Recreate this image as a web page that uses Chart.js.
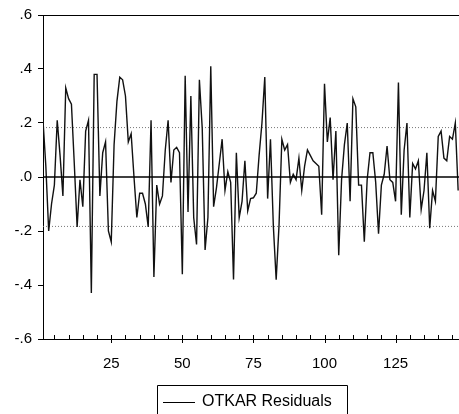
<!DOCTYPE html>
<html>
<head>
<meta charset="utf-8">
<script src="https://cdn.jsdelivr.net/npm/chart.js@4.4.1/dist/chart.umd.min.js"></script>
<style>
  body { margin: 0; background: #fff; }
  #wrap { width: 459px; height: 414px; }
</style>
</head>
<body>
<div id="wrap"><canvas id="Residuos" width="459" height="414"></canvas></div>
<script>
// residuos, observaciones 1..147
var residuals = [
   0.21,  0.04, -0.20, -0.10, -0.03,  0.21,  0.08, -0.07,  0.33,  0.29,
   0.27,  0.05, -0.185,-0.01, -0.11,  0.17,  0.21, -0.43,  0.38,  0.38,
  -0.07,  0.09,  0.13, -0.20, -0.24,  0.12,  0.28,  0.37,  0.36,  0.30,
   0.13,  0.16,  0.00, -0.15, -0.06, -0.06, -0.10, -0.185, 0.21, -0.37,
  -0.03, -0.10, -0.07,  0.10,  0.21, -0.02,  0.10,  0.11,  0.09, -0.36,
   0.375,-0.13,  0.30, -0.15, -0.25,  0.36,  0.18, -0.27, -0.15,  0.41,
  -0.11, -0.04,  0.05,  0.14, -0.05,  0.02, -0.02, -0.38,  0.09, -0.15,
  -0.09,  0.06, -0.125,-0.08, -0.077,-0.06,  0.08,  0.20,  0.37, -0.08,
   0.14, -0.18, -0.38, -0.18,  0.14,  0.10,  0.12, -0.02,  0.01, -0.01,
   0.07, -0.05,  0.04,  0.10,  0.08,  0.06,  0.05,  0.04, -0.14,  0.345,
   0.13,  0.22, -0.01,  0.17, -0.29, -0.01,  0.12,  0.20, -0.09,  0.29,
   0.26, -0.03, -0.03, -0.24, -0.01,  0.09,  0.09, -0.02, -0.21, -0.03,
   0.01,  0.115,-0.01, -0.02, -0.09,  0.35, -0.14,  0.10,  0.20, -0.15,
   0.05,  0.03,  0.06, -0.12, -0.05,  0.09, -0.19, -0.05, -0.09,  0.15,
   0.17,  0.07,  0.06,  0.15,  0.14,  0.20, -0.05
];
var seriesName = 'OTKAR Residuals';
var bandLevel = 0.183;          // lineas punteadas +/- 1 error estandar
var xMajorTicks = [25, 50, 75, 100, 125];
var yTickValues = [0.6, 0.4, 0.2, 0.0, -0.2, -0.4, -0.6];
var xFirst = 1, xLast = 147.3;

var puntos = [];
for (var i = 0; i < residuals.length; i++) {
    puntos.push({x: i + 1, y: residuals[i]});
}

function formatoY(v) {
    var s = v.toFixed(1);
    return s.replace('0.', '.');
}

// marcas del eje x hacia adentro, marco superior y leyenda con recuadro
var extras = {
    id: 'extras',
    afterDraw: function(chart) {
        var ctx = chart.ctx;
        var a = chart.chartArea;
        var xs = chart.scales.x;
        ctx.save();
        ctx.strokeStyle = '#000';
        ctx.lineWidth = 1;
        ctx.beginPath();
        ctx.moveTo(a.left, a.top + 0.5);
        ctx.lineTo(a.right, a.top + 0.5);
        for (var t = 5; t < xLast; t += 5) {
            var px = Math.round(xs.getPixelForValue(t)) + 0.5;
            var major = xMajorTicks.indexOf(t) >= 0;
            ctx.moveTo(px, a.bottom - 4);
            ctx.lineTo(px, a.bottom + (major ? 4 : 1));
        }
        ctx.stroke();

        // leyenda
        ctx.beginPath();
        ctx.rect(157.5, 385.5, 190, 40);
        ctx.stroke();
        ctx.beginPath();
        ctx.moveTo(163, 402.5);
        ctx.lineTo(195, 402.5);
        ctx.stroke();
        ctx.fillStyle = '#000';
        ctx.font = '16px "Liberation Sans", Arial, sans-serif';
        ctx.textBaseline = 'middle';
        ctx.fillText(seriesName, 202, 402);
        ctx.restore();
    }
};

var ctx = document.getElementById('Residuos').getContext('2d');
var chart = new Chart(ctx, {
    type: 'line',
    data: {
        datasets: [{
            label: seriesName,
            data: puntos,
            borderColor: '#111',
            borderWidth: 1.4,
            pointRadius: 0,
            tension: 0,
            order: 1
        }, {
            label: 'cero',
            data: [{x: xFirst, y: 0}, {x: xLast, y: 0}],
            borderColor: '#000',
            borderWidth: 1.5,
            pointRadius: 0,
            order: 0
        }, {
            label: 'banda sup',
            data: [{x: xFirst, y: bandLevel}, {x: xLast, y: bandLevel}],
            borderColor: '#777',
            borderWidth: 1,
            borderDash: [1, 2],
            pointRadius: 0,
            order: 2
        }, {
            label: 'banda inf',
            data: [{x: xFirst, y: -bandLevel}, {x: xLast, y: -bandLevel}],
            borderColor: '#777',
            borderWidth: 1,
            borderDash: [1, 2],
            pointRadius: 0,
            order: 2
        }]
    },
    options: {
        responsive: false,
        animation: false,
        layout: { padding: { top: 15, right: 0, left: 0, bottom: 39 } },
        plugins: {
            legend: { display: false },
            tooltip: { enabled: false }
        },
        scales: {
            x: {
                type: 'linear',
                min: xFirst,
                max: xLast,
                afterFit: function(s) { s.height = 36; },
                grid: { display: false },
                border: { display: true, color: '#000', width: 1 },
                afterBuildTicks: function(s) {
                    s.ticks = xMajorTicks.map(function(v) { return {value: v}; });
                },
                ticks: {
                    autoSkip: false,
                    maxRotation: 0,
                    padding: 8,
                    color: '#000',
                    font: { family: '"Liberation Sans", Arial, sans-serif', size: 15 }
                }
            },
            y: {
                min: -0.6,
                max: 0.6,
                afterFit: function(s) { s.width = 43; },
                afterBuildTicks: function(s) {
                    s.ticks = yTickValues.map(function(v) { return {value: v}; });
                },
                grid: { drawOnChartArea: false, tickLength: 5, tickColor: '#000' },
                border: { display: true, color: '#000', width: 1 },
                ticks: {
                    padding: 6,
                    color: '#000',
                    callback: function(v) { return formatoY(v); },
                    font: { family: '"Liberation Sans", Arial, sans-serif', size: 15 }
                }
            }
        }
    },
    plugins: [extras]
});
</script>
</body>
</html>
